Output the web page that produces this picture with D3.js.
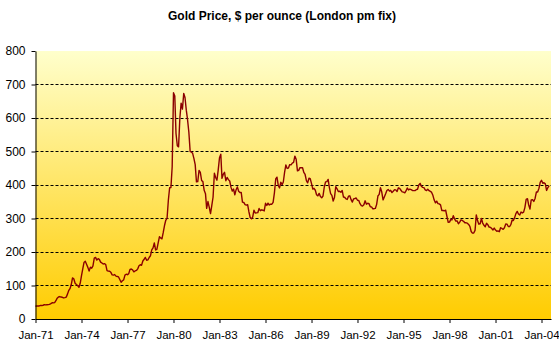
<!DOCTYPE html>
<html>
<head>
<meta charset="utf-8">
<script src="https://cdn.jsdelivr.net/npm/d3@7"></script>
<style>
  html, body { margin: 0; padding: 0; background: #ffffff; }
  svg { display: block; }
  text { font-family: Arial, "Liberation Sans", sans-serif; }
</style>
</head>
<body>
<svg id="chart" width="559" height="346"></svg>
<script>
// ---- data (monthly average, London pm fix, USD/oz), Jan 1971 .. Jul 2004 ----
const startYear = 1971;
const goldPrice = [
  // 1971
  37.9, 38.7, 38.9, 39.0, 40.5, 40.1, 41.0, 42.7, 42.0, 42.5, 42.9, 43.5,
  // 1972
  45.8, 48.3, 48.3, 49.0, 54.6, 62.1, 65.7, 67.0, 65.5, 64.9, 62.9, 63.9,
  // 1973
  65.1, 74.2, 84.4, 90.5, 102.0, 122.5, 120.2, 106.8, 103.0, 100.1, 94.8, 106.7,
  // 1974
  129.2, 150.2, 168.4, 172.2, 163.3, 154.1, 143.0, 154.6, 151.8, 158.8, 181.7, 183.9,
  // 1975
  175.8, 180.0, 178.0, 169.8, 167.3, 164.2, 165.1, 162.6, 144.3, 142.8, 142.4, 139.3,
  // 1976
  131.6, 131.0, 132.6, 128.0, 127.0, 125.5, 117.8, 109.6, 114.2, 116.7, 130.9, 133.7,
  // 1977
  132.3, 136.1, 148.2, 149.2, 146.7, 140.8, 143.4, 145.0, 149.6, 158.8, 162.0, 160.5,
  // 1978
  173.2, 178.2, 183.7, 175.2, 176.3, 183.7, 188.7, 206.1, 212.3, 227.2, 206.1, 207.8,
  // 1979
  227.3, 245.7, 242.1, 239.2, 257.6, 279.1, 294.7, 300.9, 355.1, 391.7, 392.5, 455.1,
  // 1980
  675.3, 665.3, 553.6, 517.4, 513.8, 600.7, 644.3, 626.5, 673.6, 661.2, 623.5, 594.9,
  // 1981
  557.6, 499.8, 498.7, 494.5, 479.7, 460.8, 409.3, 410.1, 443.6, 437.8, 413.4, 410.1,
  // 1982
  384.0, 374.2, 330.1, 350.6, 333.7, 314.5, 338.7, 364.2, 435.3, 422.4, 414.3, 444.3,
  // 1983
  481.2, 491.9, 419.7, 432.1, 438.0, 412.8, 422.5, 416.0, 411.9, 393.6, 381.7, 388.0,
  // 1984
  370.9, 386.0, 394.3, 381.3, 377.7, 377.9, 348.7, 347.9, 341.3, 340.1, 341.3, 320.2,
  // 1985
  302.7, 299.1, 303.9, 324.9, 316.4, 316.9, 317.4, 329.9, 323.3, 325.9, 324.7, 322.7,
  // 1986
  345.4, 338.9, 345.7, 340.4, 342.6, 342.7, 348.4, 376.5, 417.9, 423.5, 398.6, 391.3,
  // 1987
  408.3, 401.1, 409.0, 438.2, 460.1, 449.5, 450.4, 460.9, 460.2, 465.4, 467.3, 486.2,
  // 1988
  476.6, 442.1, 443.6, 451.9, 451.3, 451.5, 437.5, 431.4, 413.3, 406.3, 420.1, 418.6,
  // 1989
  404.0, 387.7, 390.1, 384.3, 371.0, 367.6, 375.0, 365.4, 362.0, 366.9, 394.0, 409.3,
  // 1990
  410.1, 416.7, 393.0, 374.4, 369.1, 352.2, 362.5, 394.8, 388.6, 380.7, 381.2, 378.2,
  // 1991
  383.7, 363.8, 363.3, 358.4, 356.8, 366.7, 367.7, 356.4, 348.9, 358.7, 359.8, 361.1,
  // 1992
  354.5, 353.9, 344.3, 338.6, 337.4, 340.8, 352.8, 342.8, 345.4, 344.4, 335.0, 334.8,
  // 1993
  329.0, 329.3, 330.1, 342.2, 367.1, 371.9, 392.0, 379.0, 355.5, 364.3, 373.6, 383.3,
  // 1994
  386.9, 381.9, 384.1, 377.3, 381.3, 385.6, 385.5, 380.4, 391.6, 389.8, 384.4, 379.3,
  // 1995
  378.6, 376.6, 382.1, 391.0, 385.3, 387.6, 386.2, 383.7, 383.1, 383.1, 386.0, 387.4,
  // 1996
  400.0, 404.8, 396.3, 393.0, 392.0, 385.3, 383.5, 387.5, 383.1, 381.1, 377.9, 369.2,
  // 1997
  355.0, 346.6, 351.8, 344.5, 343.8, 340.8, 324.1, 323.9, 322.8, 324.9, 306.0, 288.7,
  // 1998
  289.1, 297.5, 295.9, 308.4, 299.1, 292.3, 292.9, 284.1, 289.0, 295.9, 294.1, 291.6,
  // 1999
  287.1, 287.2, 286.0, 282.4, 276.4, 261.3, 256.2, 256.7, 264.7, 310.7, 293.2, 283.1,
  // 2000
  284.3, 299.9, 286.4, 279.7, 275.1, 285.7, 281.6, 274.5, 273.7, 270.0, 266.0, 271.5,
  // 2001
  265.5, 261.9, 263.0, 260.5, 272.4, 270.2, 267.5, 272.4, 283.4, 283.1, 276.2, 275.9,
  // 2002
  281.7, 295.5, 294.0, 302.7, 314.5, 321.2, 313.3, 310.3, 319.2, 316.6, 319.1, 332.6,
  // 2003
  356.9, 359.0, 340.6, 328.2, 355.7, 356.4, 351.0, 359.8, 378.9, 378.9, 389.9, 407.6,
  // 2004
  414.0, 405.3, 406.7, 403.3, 383.8, 392.4, 398.1
];
const yTickValues = [0, 100, 200, 300, 400, 500, 600, 700, 800];
const gridValues = [100, 200, 300, 400, 500, 600, 700];
const xTickYears = [1971, 1974, 1977, 1980, 1983, 1986, 1989, 1992, 1995, 1998, 2001, 2004];
const titleText = "Gold Price, $ per ounce (London pm fix)";

// ---- layout ----
const plotLeft = 35.5, plotRight = 551, plotTop = 51, plotBottom = 319;

const svg = d3.select("#chart");

const xBase = d3.scaleTime()
  .domain([new Date(1971, 0, 1), new Date(2004, 0, 1)])
  .range([plotLeft, 541.5]);
const x = d3.scaleTime()
  .domain([xBase.domain()[0], xBase.invert(plotRight)])
  .range([plotLeft, plotRight]);
const y = d3.scaleLinear().domain([0, 800]).range([plotBottom, plotTop]);

const data = goldPrice.map((v, i) => ({ date: new Date(startYear, i, 1), value: v }));

// background gradient
const defs = svg.append("defs");
const grad = defs.append("linearGradient")
  .attr("id", "bg").attr("x1", 0).attr("y1", 0).attr("x2", 0).attr("y2", 1);
grad.append("stop").attr("offset", "0%").attr("stop-color", "#FFFFCC");
grad.append("stop").attr("offset", "100%").attr("stop-color", "#FFCC00");

svg.append("rect")
  .attr("x", plotLeft).attr("y", plotTop)
  .attr("width", plotRight - plotLeft).attr("height", plotBottom - plotTop)
  .attr("fill", "url(#bg)");

// gridlines
svg.append("g").selectAll("line").data(gridValues).join("line")
  .attr("x1", plotLeft).attr("x2", plotRight)
  .attr("y1", d => Math.floor(y(d)) + 0.5).attr("y2", d => Math.floor(y(d)) + 0.5)
  .attr("stroke", "#000").attr("stroke-width", 1)
  .attr("stroke-dasharray", "3,2");

// line
svg.append("path")
  .datum(data)
  .attr("fill", "none")
  .attr("stroke", "#8B0000")
  .attr("stroke-width", 1.4)
  .attr("stroke-linejoin", "round")
  .attr("d", d3.line().x(d => x(d.date)).y(d => y(d.value)));

// y axis
const yAxis = svg.append("g")
  .attr("transform", `translate(${plotLeft},0)`)
  .call(d3.axisLeft(y).tickValues(yTickValues).tickSize(4).tickSizeOuter(0).tickPadding(6).tickFormat(d3.format("d")));
yAxis.selectAll("text").attr("font-size", 12).attr("fill", "#000").attr("font-family", "Arial, 'Liberation Sans', sans-serif");
yAxis.selectAll("line").attr("stroke", "#000");
yAxis.select(".domain").attr("stroke", "#000");

// x axis
const xAxis = svg.append("g")
  .attr("transform", `translate(0,${plotBottom})`)
  .call(d3.axisBottom(x)
    .tickValues(xTickYears.map(yr => new Date(yr, 0, 1)))
    .tickFormat(d3.timeFormat("%b-%y"))
    .tickSize(4).tickSizeOuter(0).tickPadding(8));
xAxis.selectAll("text").attr("font-size", 11.5).attr("fill", "#000").attr("font-family", "Arial, 'Liberation Sans', sans-serif");
xAxis.selectAll("line").attr("stroke", "#000");
xAxis.select(".domain").attr("stroke", "#000");

// title
svg.append("text")
  .attr("x", 282).attr("y", 19.5)
  .attr("text-anchor", "middle")
  .attr("font-size", 12).attr("font-weight", "bold")
  .attr("fill", "#000")
  .text(titleText);
</script>
</body>
</html>
